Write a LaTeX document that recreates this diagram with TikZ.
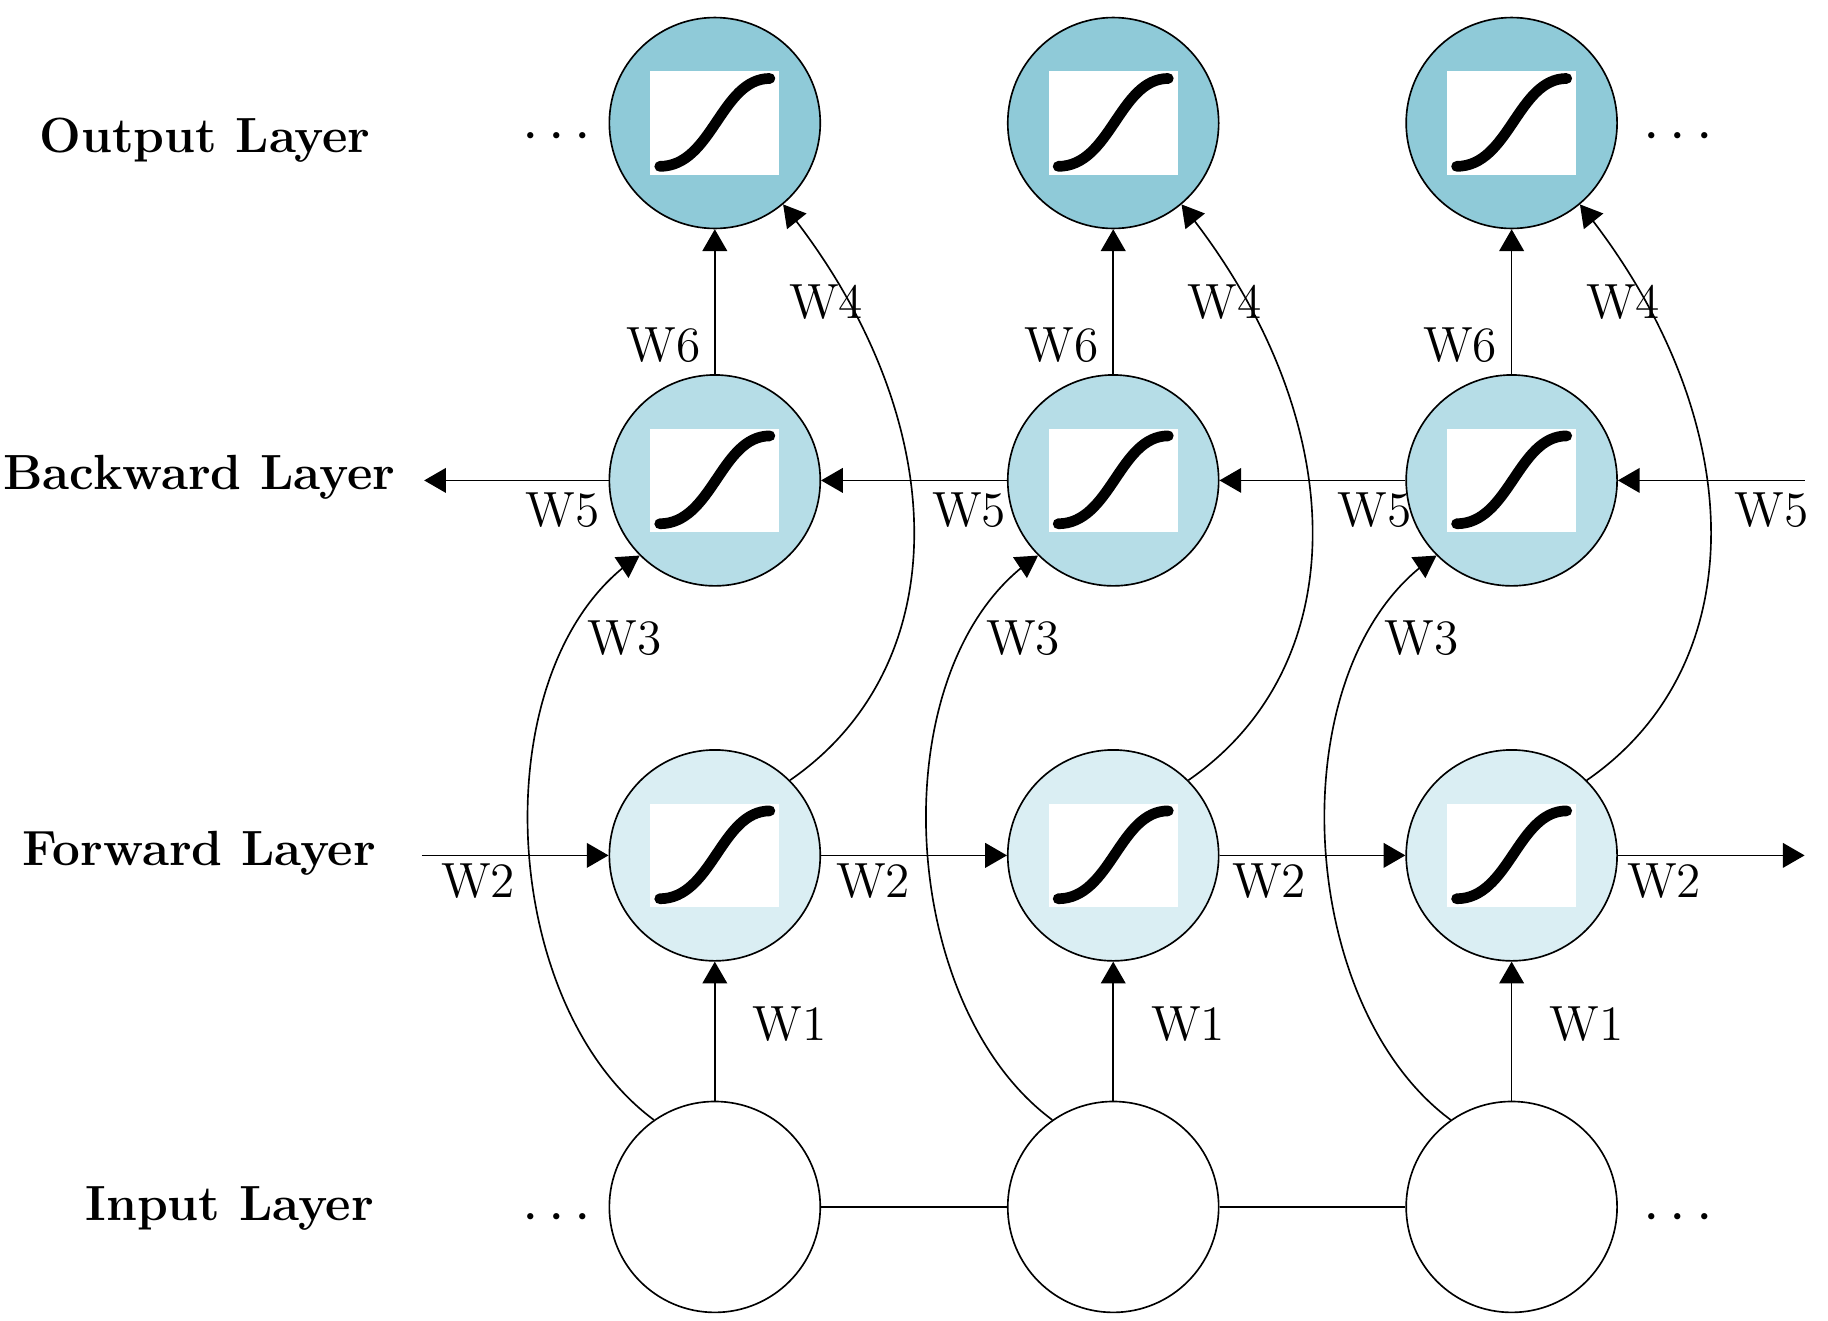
\documentclass[tikz,border=0pt]{standalone}
\usepackage{tikz}
\usetikzlibrary{arrows,shapes,positioning}
\definecolor{outblue}{HTML}{8FCAD8}
\definecolor{bwdblue}{HTML}{B6DDE7}
\definecolor{fwdblue}{HTML}{DAEEF3}
\tikzset{
    unit/.style={circle, draw, thin, minimum size=1.8cm, inner sep=0pt},
    sig/.style={unit, path picture={
        \fill[white] ([shift={(-0.55,-0.44)}]path picture bounding box.center) rectangle ++(1.1,0.88);
        \draw[line width=2.6pt, line cap=round] ([shift={(-0.47,-0.37)}]path picture bounding box.center)
            .. controls ++(0.45,0) and ++(-0.42,0) .. ++(0.94,0.75);
    }},
    lbl/.style={font=\bfseries\large},
    wt/.style={font=\large},
    conn/.style={-triangle 60, thin},
}
\begin{document}
\begin{tikzpicture}
    \useasboundingbox (0,0) rectangle (15.6,11.27);
    \foreach \c/\x in {1/6.1, 2/9.5, 3/12.9} {
        \node [sig, fill=outblue] (o\c) at (\x,10.22) {};
        \node [sig, fill=bwdblue] (b\c) at (\x,7.17) {};
        \node [sig, fill=fwdblue] (f\c) at (\x,3.97) {};
        \node [unit, fill=white] (i\c) at (\x,0.97) {};
        \draw [conn] (i\c) -- node [wt, right=2mm, pos=0.55] {W1} (f\c);
        \draw [conn] (b\c) -- node [wt, left=0mm, pos=0.2] {W6} (o\c);
        \draw [conn] (f\c.45) .. controls ++(1.45,1.0) and ++(1.45,-1.8) .. (o\c.-50);
        \draw [conn] (i\c.125) .. controls ++(-1.35,1.0) and ++(-1.35,-0.9) .. (b\c.-135);
    }
    % weight labels on the curves
    \foreach \x in {0, 3.4, 6.8} {
        \node [wt] (w4\x) at (7.05+\x,8.69) {W4};
        \node [wt] (w3\x) at (5.33+\x,5.82) {W3};
    }
    % forward chain
    \coordinate (fin) at (3.6,3.97);
    \coordinate (fout) at (15.4,3.97);
    \draw [conn] (fin) -- (f1);
    \draw [conn] (f1) -- (f2);
    \draw [conn] (f2) -- (f3);
    \draw [conn] (f3) -- (fout);
    \foreach \x in {4.08, 7.45, 10.83, 14.2}
        \node [wt] at (\x,3.75) {W2};
    % backward chain
    \coordinate (bin) at (15.4,7.17);
    \coordinate (bout) at (3.62,7.17);
    \draw [conn] (bin) -- (b3);
    \draw [conn] (b3) -- (b2);
    \draw [conn] (b2) -- (b1);
    \draw [conn] (b1) -- (bout);
    \foreach \x in {4.8, 8.27, 11.73, 15.12}
        \node [wt] at (\x,6.92) {W5};
    % input line
    \draw (i1) -- (i2) -- (i3);
    % dots
    \node [font=\Large] (dol) at (4.75,10.1) {$\cdots$};
    \node [font=\Large] (dor) at (14.32,10.1) {$\cdots$};
    \node [font=\Large] (dil) at (4.75,0.87) {$\cdots$};
    \node [font=\Large] (dir) at (14.32,0.87) {$\cdots$};
    % layer names
    \node [lbl] (lo) at (1.75,10.07) {Output Layer};
    \node [lbl] (lb) at (1.7,7.2) {Backward Layer};
    \node [lbl] (lf) at (1.7,3.99) {Forward Layer};
    \node [lbl] (li) at (1.96,0.96) {Input Layer};
\end{tikzpicture}
\end{document}
